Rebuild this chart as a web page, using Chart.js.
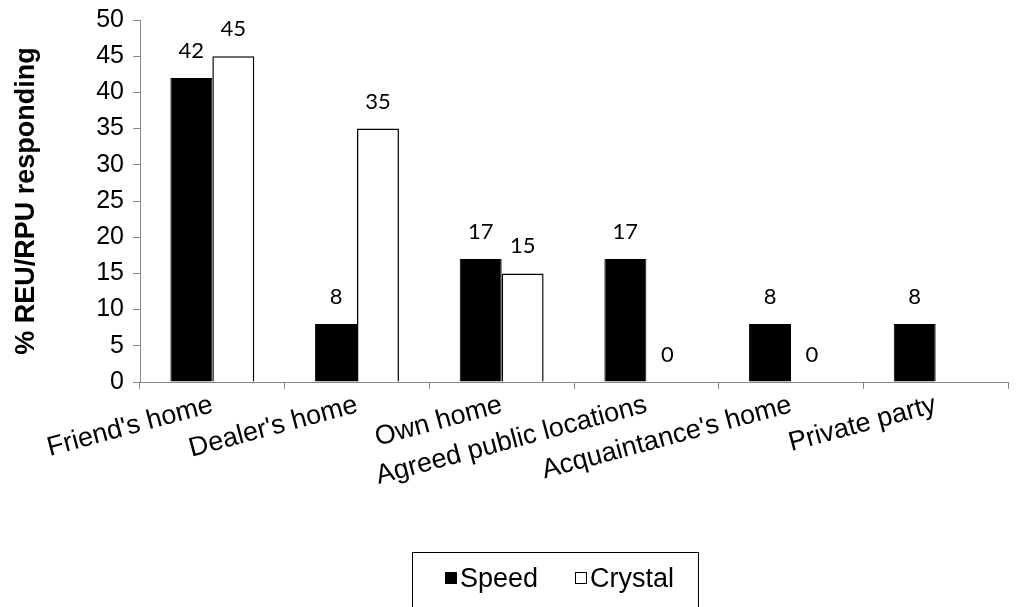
<!DOCTYPE html>
<html><head><meta charset="utf-8">
<script src="https://cdn.jsdelivr.net/npm/chart.js@4/dist/chart.umd.min.js"></script>
<style>html,body{margin:0;padding:0;background:#fff}</style>
</head><body>
<canvas id="c" width="1017" height="607"></canvas>
<script>
const categories = ["Friend's home", "Dealer's home", "Own home", "Agreed public locations", "Acquaintance's home", "Private party"];
const speedValues = [42, 8, 17, 17, 8, 8];
const crystalValues = [45, 35, 15, 0, 0, null];
const seriesNames = ["Speed", "Crystal"];
const yMin = 0, yMax = 50, yStep = 5;
const yTitle = "% REU/RPU responding";

const FONT = "'Liberation Sans', Arial, sans-serif";

const dataLabels = {
  id: 'dataLabels',
  afterDatasetsDraw(chart) {
    const ctx = chart.ctx;
    ctx.save();
    ctx.font = "22px Lato, 'Open Sans', sans-serif";
    ctx.fillStyle = '#000';
    ctx.textAlign = 'center';
    ctx.textBaseline = 'middle';
    chart.data.datasets.forEach((ds, i) => {
      const meta = chart.getDatasetMeta(i);
      meta.data.forEach((el, j) => {
        const v = ds.data[j];
        if (v === null || v === undefined) return;
        ctx.fillText(String(v), el.x, el.y - 27);
      });
    });
    ctx.restore();
  }
};

const boxLegend = {
  id: 'boxLegend',
  afterDraw(chart) {
    const ctx = chart.ctx;
    ctx.save();
    ctx.strokeStyle = '#000';
    ctx.lineWidth = 1;
    ctx.strokeRect(412.5, 552.5, 286, 80);
    ctx.font = "27px " + FONT;
    ctx.textBaseline = 'middle';
    ctx.textAlign = 'left';
    const items = [{x: 445, text: chart.data.datasets[0].label, fill: chart.data.datasets[0].backgroundColor},
                   {x: 575, text: chart.data.datasets[1].label, fill: chart.data.datasets[1].backgroundColor}];
    items.forEach(it => {
      ctx.fillStyle = it.fill;
      ctx.fillRect(it.x, 572, 12, 12);
      ctx.strokeStyle = '#000';
      ctx.strokeRect(it.x + 0.5, 572.5, 11, 11);
      ctx.fillStyle = '#000';
      ctx.fillText(it.text, it.x + 15, 580);
    });
    ctx.restore();
  }
};

new Chart(document.getElementById('c'), {
  type: 'bar',
  data: {
    labels: categories,
    datasets: [
      {label: seriesNames[0], data: speedValues, backgroundColor: '#000', borderColor: '#000', borderWidth: 1,
       categoryPercentage: 0.58, barPercentage: 1.0},
      {label: seriesNames[1], data: crystalValues, backgroundColor: '#fff', borderColor: '#000', borderWidth: 1.5,
       categoryPercentage: 0.58, barPercentage: 1.0}
    ]
  },
  options: {
    responsive: false,
    devicePixelRatio: 1,
    animation: false,
    layout: {padding: {top: 20, right: 9, left: 0, bottom: 0}},
    plugins: {legend: {display: false}, tooltip: {enabled: false}},
    scales: {
      x: {
        z: 1,
        grid: {drawOnChartArea: false, drawTicks: true, tickLength: 7, color: '#888', offset: true},
        border: {color: '#888', width: 1},
        ticks: {color: '#000', font: {family: FONT, size: 27}, minRotation: 15, maxRotation: 15, autoSkip: false, padding: 0},
        afterFit(s) { s.height = 225; }
      },
      y: {
        min: yMin, max: yMax,
        grid: {drawOnChartArea: false, drawTicks: true, tickLength: 7, color: '#888'},
        border: {color: '#888', width: 1},
        ticks: {stepSize: yStep, color: '#000', font: {family: FONT, size: 25}, padding: 9},
        title: {display: true, text: yTitle, color: '#000', font: {family: FONT, size: 27, weight: 'bold'}, padding: {top: 10, bottom: 0}},
        afterFit(s) { s.width = 140; s.paddingTop = 20; s.paddingBottom = 0; }
      }
    }
  },
  plugins: [dataLabels, boxLegend]
});
</script>
</body></html>
